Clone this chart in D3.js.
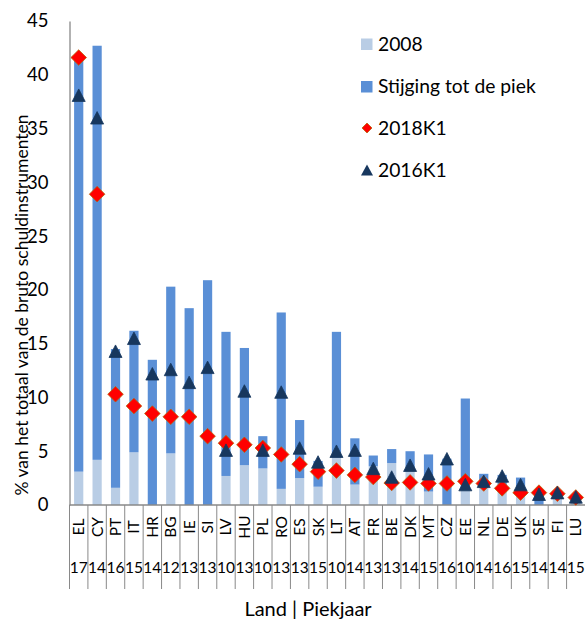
<!DOCTYPE html>
<html>
<head>
<meta charset="utf-8">
<script src="https://cdn.jsdelivr.net/npm/d3@7/dist/d3.min.js"></script>
<style>
  html, body { margin: 0; padding: 0; background: #fff; }
  svg { display: block; }
  text { font-family: Lato, "Open Sans", sans-serif; fill: #000; }
</style>
</head>
<body>
<svg id="chart" width="585" height="619"></svg>
<script>
const countries = ["EL","CY","PT","IT","HR","BG","IE","SI","LV","HU","PL","RO","ES","SK","LT","AT","FR","BE","DK","MT","CZ","EE","NL","DE","UK","SE","FI","LU"];
const peakYears = ["17","14","16","15","14","12","13","13","10","13","10","13","13","15","10","14","13","13","14","15","16","10","14","16","15","14","14","15"];
const values2008 = [3.1, 4.2, 1.6, 4.9, 0, 4.8, 0, 0, 2.7, 3.7, 3.4, 1.5, 2.5, 1.7, 4.4, 1.9, 3.6, 3.9, 3.2, 1.25, 0, 1.4, 1.6, 1.6, 1.6, 0, 0.9, 0.6];
const valuesRise = [38.7, 38.5, 12.9, 11.3, 13.5, 15.5, 18.3, 20.9, 13.4, 10.9, 3.0, 16.4, 5.4, 2.4, 11.7, 4.3, 1.0, 1.3, 1.8, 3.45, 4.3, 8.5, 1.3, 1.2, 0.95, 1.2, 0.2, 0.2];
const values2018K1 = [41.6, 28.9, 10.3, 9.2, 8.5, 8.2, 8.2, 6.4, 5.75, 5.6, 5.3, 4.7, 3.8, 3.1, 3.2, 2.8, 2.6, 2.05, 2.1, 2.0, 2.0, 2.2, 2.0, 1.55, 1.15, 1.15, 1.05, 0.7];
const values2016K1 = [38.1, 36.0, 14.3, 15.5, 12.2, 12.6, 11.4, 12.8, 5.1, 10.6, 5.1, 10.5, 5.3, 4.0, 5.0, 5.1, 3.4, 2.6, 3.7, 2.9, 4.3, 1.9, 2.2, 2.7, 1.9, 1.0, 1.15, 0.75];
const yTicks = [0, 5, 10, 15, 20, 25, 30, 35, 40, 45];
const seriesNames = ["2008", "Stijging tot de piek", "2018K1", "2016K1"];
const yTitle = "% van het totaal van de bruto schuldinstrumenten";
const xTitle = "Land | Piekjaar";

const colors = { light: "#B9CDE5", dark: "#5A8FD6", red: "#FF0000", redStroke: "#B8650A", navy: "#17375E", axis: "#898989" };

const svg = d3.select("#chart");
const plotLeft = 69.5, plotRight = 585, plotTop = 21, plotBottom = 505;

const x = d3.scaleBand().domain(countries).range([plotLeft, plotRight]).padding(0);
const y = d3.scaleLinear().domain([0, 45]).range([plotBottom, plotTop]);
const step = x.step();
const bw = step * 0.5;

const data = countries.map((c, i) => ({ c, yr: peakYears[i], v08: values2008[i], rise: valuesRise[i], v18: values2018K1[i], v16: values2016K1[i] }));

const g = svg.append("g");
g.selectAll("rect.b08").data(data).enter().append("rect")
  .attr("x", d => x(d.c) + (step - bw) / 2)
  .attr("width", bw)
  .attr("y", d => y(d.v08))
  .attr("height", d => y(0) - y(d.v08))
  .attr("fill", colors.light);
g.selectAll("rect.brise").data(data).enter().append("rect")
  .attr("x", d => x(d.c) + (step - bw) / 2)
  .attr("width", bw)
  .attr("y", d => y(d.v08 + d.rise))
  .attr("height", d => y(d.v08) - y(d.v08 + d.rise))
  .attr("fill", colors.dark);

const yAxis = d3.axisLeft(y).tickValues(yTicks).tickSize(0).tickPadding(21);
const ya = svg.append("g").attr("transform", `translate(${plotLeft},0)`).call(yAxis);
ya.select(".domain").attr("stroke", colors.axis).attr("stroke-width", 1.3);
ya.selectAll("text").style("font-family", "Lato, sans-serif").style("font-size", "18.5px").attr("fill", "#000");

const xa = svg.append("g");
xa.append("line").attr("x1", plotLeft).attr("x2", plotRight).attr("y1", plotBottom).attr("y2", plotBottom)
  .attr("stroke", colors.axis).attr("stroke-width", 1.3);
const seps = countries.map(c => x(c));
xa.selectAll("line.sep").data(seps).enter().append("line")
  .attr("x1", d => d).attr("x2", d => d)
  .attr("y1", plotBottom).attr("y2", 589)
  .attr("stroke", colors.axis).attr("stroke-width", 1);
xa.selectAll("text.cty").data(data).enter().append("text")
  .attr("transform", d => `translate(${x(d.c) + step / 2 + 5.5},527) rotate(-90)`)
  .attr("text-anchor", "middle")
  .style("font-size", "15.5px")
  .text(d => d.c);
xa.selectAll("text.yr").data(data).enter().append("text")
  .attr("x", d => x(d.c) + step / 2)
  .attr("y", 573)
  .attr("text-anchor", "middle")
  .style("font-size", "15.5px")
  .text(d => d.yr);

const diamond = s => `M0,${-s}L${s},0L0,${s}L${-s},0Z`;
const tri = (w, h) => `M0,${-h / 2}L${w / 2},${h / 2}L${-w / 2},${h / 2}Z`;

svg.append("g").selectAll("path").data(data).enter().append("path")
  .attr("transform", d => `translate(${x(d.c) + step / 2},${y(d.v18)})`)
  .attr("d", diamond(7.8))
  .attr("fill", colors.red).attr("stroke", colors.redStroke).attr("stroke-width", 0.8);

svg.append("g").selectAll("path").data(data).enter().append("path")
  .attr("transform", d => `translate(${x(d.c) + step / 2},${y(d.v16)})`)
  .attr("d", tri(13, 12.5))
  .attr("fill", colors.navy).attr("stroke", colors.navy).attr("stroke-width", 0.8).attr("stroke-linejoin", "round");

svg.append("text")
  .attr("transform", "translate(28,305) rotate(-90)")
  .attr("text-anchor", "middle")
  .style("font-size", "17.5px")
  .text(yTitle);
svg.append("text")
  .attr("x", 308).attr("y", 616)
  .attr("text-anchor", "middle")
  .style("font-size", "20px")
  .text(xTitle);

const lg = svg.append("g");
const rows = [44, 86.5, 128, 170];
lg.append("rect").attr("x", 361).attr("y", rows[0] - 5.5).attr("width", 11.5).attr("height", 11.5).attr("fill", colors.light);
lg.append("rect").attr("x", 361).attr("y", rows[1] - 5.5).attr("width", 11.5).attr("height", 11.5).attr("fill", colors.dark);
lg.append("path").attr("transform", `translate(367,${rows[2]})`).attr("d", diamond(5))
  .attr("fill", colors.red).attr("stroke", colors.redStroke).attr("stroke-width", 0.8);
lg.append("path").attr("transform", `translate(367,${rows[3]})`).attr("d", tri(12, 11))
  .attr("fill", colors.navy);
lg.selectAll("text").data(seriesNames).enter().append("text")
  .attr("x", 378).attr("y", (d, i) => rows[i]).attr("dy", "0.36em")
  .style("font-size", "19.3px")
  .text(d => d);
</script>
</body>
</html>
